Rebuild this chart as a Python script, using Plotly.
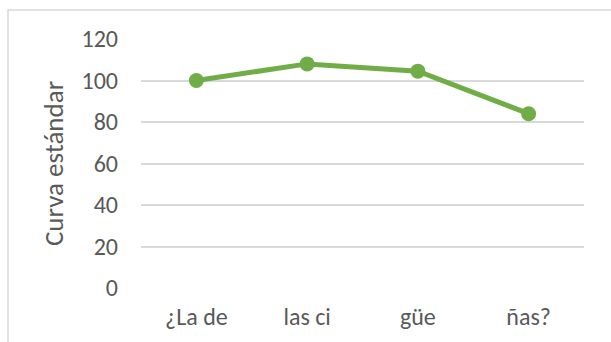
import plotly.graph_objects as go

categories = ["¿La de", "las ci", "güe", "ñas?"]
values = [100, 108, 104.5, 84]
y_ticks = [0, 20, 40, 60, 80, 100, 120]

W, H = 611, 342
ml, mr, mt, mb = 141, 27, 39, 54
pw, ph = W - ml - mr, H - mt - mb

fig = go.Figure(
    go.Scatter(
        x=categories,
        y=values,
        mode="lines+markers",
        line=dict(color="#70AD47", width=5),
        marker=dict(color="#70AD47", size=15),
        showlegend=False,
        cliponaxis=False,
    )
)

font_family = "Carlito, Calibri, Lato, sans-serif"

fig.update_layout(
    width=W,
    height=H,
    margin=dict(l=ml, r=mr, t=mt, b=mb),
    paper_bgcolor="white",
    plot_bgcolor="white",
    font=dict(family=font_family, color="#595959", size=24),
    xaxis=dict(
        type="category",
        range=[-0.5, len(categories) - 0.5],
        showgrid=False,
        showline=False,
        ticks="",
        zeroline=False,
        tickfont=dict(size=24, color="#595959"),
        ticklabelstandoff=12,
    ),
    yaxis=dict(
        range=[0, 120],
        tickvals=y_ticks,
        showgrid=True,
        gridcolor="#D9D9D9",
        gridwidth=1.5,
        zeroline=False,
        showline=False,
        ticks="",
        tickfont=dict(size=24, color="#595959"),
        ticklabelstandoff=22,
        title=dict(text="Curva estándar", font=dict(size=27, color="#595959"), standoff=10),
    ),
    shapes=[
        dict(
            type="rect",
            xref="paper",
            yref="paper",
            x0=(8 - ml) / pw,
            x1=(W + 5 - ml) / pw,
            y0=(H - mb - (H + 5)) / ph,
            y1=(H - mb - 10) / ph,
            line=dict(color="#D9D9D9", width=1.5),
            fillcolor="rgba(0,0,0,0)",
            layer="below",
        )
    ],
)

fig.write_html("out.html")
